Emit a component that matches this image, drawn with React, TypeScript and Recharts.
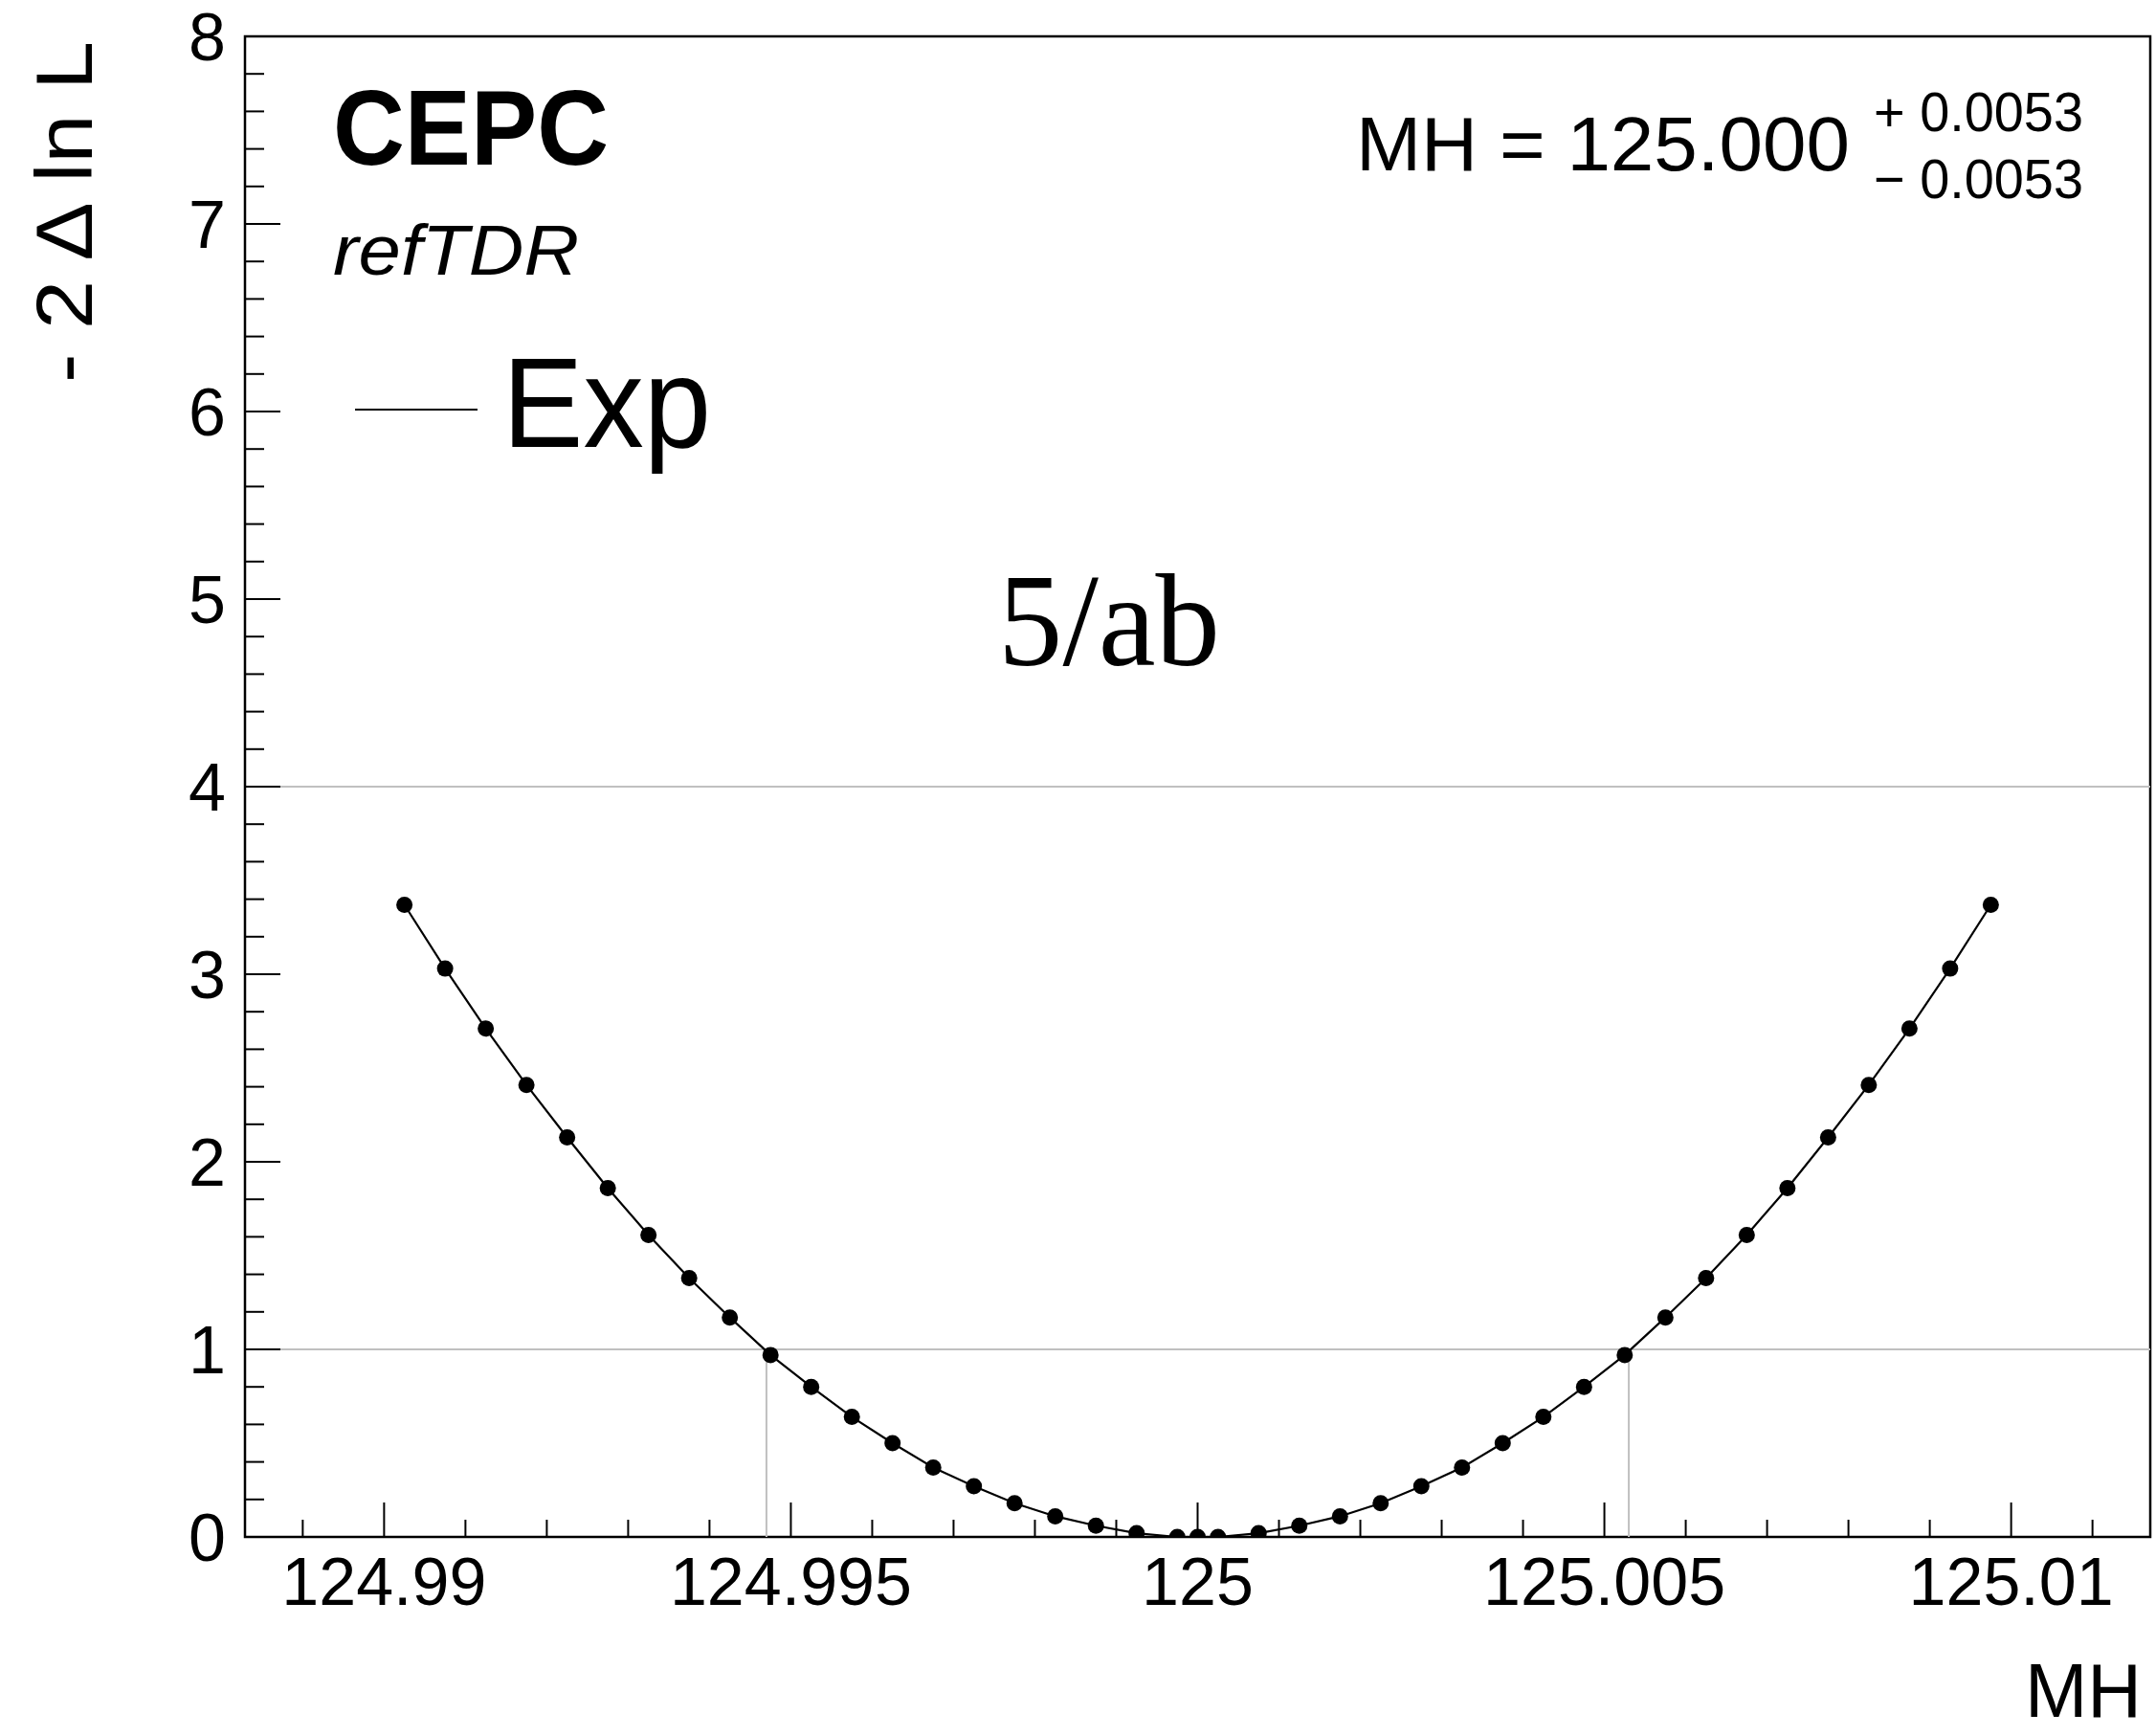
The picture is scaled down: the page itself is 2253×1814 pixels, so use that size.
import React from "react"
import { LineChart, Line, XAxis, YAxis, ReferenceLine, ReferenceArea } from "recharts"

// likelihood scan of MH
const mhValues = [
  124.99025, 124.99075, 124.99125, 124.99175, 124.99225, 124.99275, 124.99325,
  124.99375, 124.99425, 124.99475, 124.99525, 124.99575, 124.99625, 124.99675,
  124.99725, 124.99775, 124.99825, 124.99875, 124.99925, 124.99975, 125.0,
  125.00025, 125.00075, 125.00125, 125.00175, 125.00225, 125.00275, 125.00325,
  125.00375, 125.00425, 125.00475, 125.00525, 125.00575, 125.00625, 125.00675,
  125.00725, 125.00775, 125.00825, 125.00875, 125.00925, 125.00975,
]
const nllValues = [
  3.37, 3.03, 2.71, 2.41, 2.13, 1.86, 1.61, 1.38, 1.17, 0.97, 0.8, 0.64, 0.5, 0.37,
  0.27, 0.18, 0.11, 0.06, 0.02, 0.0, 0.0,
  0.0, 0.02, 0.06, 0.11, 0.18, 0.27, 0.37, 0.5, 0.64, 0.8, 0.97, 1.17, 1.38, 1.61,
  1.86, 2.13, 2.41, 2.71, 3.03, 3.37,
]

const xDomain = [124.98829, 125.01171]
const xMajor = [124.99, 124.995, 125, 125.005, 125.01]
const xMajorLabels = ["124.99", "124.995", "125", "125.005", "125.01"]
const xMinorStep = 0.001

const yDomain = [0, 8]
const yMajor = [0, 1, 2, 3, 4, 5, 6, 7, 8]
const yMinorDiv = 5

const sigmaLines = [124.9947, 125.0053]
const refLevels = [1, 4]

const data = mhValues.map((mh, i) => ({ mh, nll: nllValues[i] }))

const xTicks: number[] = []
for (let v = 124.989; v <= 125.0115; v += xMinorStep) xTicks.push(Math.round(v * 1e6) / 1e6)

const yTicks: number[] = []
for (let i = 0; i < yMajor.length - 1; i++) {
  for (let j = 0; j < yMinorDiv; j++) yTicks.push(yMajor[i] + j / yMinorDiv)
}
yTicks.push(yMajor[yMajor.length - 1])

const FONT = "'Liberation Sans', Arial, Helvetica, sans-serif"

const XTick = (props: any) => {
  const { x, y, payload } = props
  const idx = xMajor.findIndex((m) => Math.abs(m - payload.value) < 1e-7)
  const major = idx >= 0
  return (
    <g>
      <line x1={x} x2={x} y1={y} y2={y - (major ? 36 : 18)} stroke="#000" strokeWidth={2} />
      {major && (
        <text x={x} y={y + 71} textAnchor="middle" fontSize={70} fontFamily={FONT} fill="#000">
          {xMajorLabels[idx]}
        </text>
      )}
    </g>
  )
}

const YTick = (props: any) => {
  const { x, y, payload } = props
  const major = Math.abs(payload.value - Math.round(payload.value)) < 1e-7
  return (
    <g>
      <line x1={x} x2={x + (major ? 37 : 20)} y1={y} y2={y} stroke="#000" strokeWidth={2} />
      {major && (
        <text x={x - 20} y={y + 25} textAnchor="end" fontSize={70} fontFamily={FONT} fill="#000">
          {Math.round(payload.value)}
        </text>
      )}
    </g>
  )
}

export default function App() {
  return (
    <div style={{ position: "absolute", left: 0, top: 0, width: 2253, height: 1814, background: "#fff" }}>
      <LineChart width={2253} height={1814} data={data} margin={{ top: 38, right: 6, bottom: 0, left: 0 }}>
        <XAxis
          dataKey="mh"
          type="number"
          domain={xDomain}
          allowDataOverflow
          ticks={xTicks}
          interval={0}
          tickSize={0}
          tickMargin={0}
          axisLine={false}
          tickLine={false}
          height={208}
          tick={<XTick />}
        />
        <YAxis
          type="number"
          domain={yDomain}
          allowDataOverflow
          ticks={yTicks}
          interval={0}
          tickSize={0}
          tickMargin={0}
          axisLine={false}
          tickLine={false}
          width={256}
          tick={<YTick />}
        />
        {refLevels.map((lv) => (
          <ReferenceLine key={"h" + lv} y={lv} stroke="#c0c0c0" strokeWidth={2} />
        ))}
        {sigmaLines.map((sx) => (
          <ReferenceLine
            key={"v" + sx}
            segment={[{ x: sx, y: 0 }, { x: sx, y: 1 }]}
            stroke="#c0c0c0"
            strokeWidth={2}
          />
        ))}
        <ReferenceArea
          x1={xDomain[0]}
          x2={xDomain[1]}
          y1={yDomain[0]}
          y2={yDomain[1]}
          fill="none"
          fillOpacity={0}
          stroke="#000"
          strokeWidth={2.5}
        />
        <Line
          dataKey="nll"
          type="linear"
          stroke="#000"
          strokeWidth={2.2}
          dot={{ r: 8.5, fill: "#000", stroke: "#000", strokeWidth: 0 }}
          activeDot={false}
          isAnimationActive={false}
        />
      </LineChart>
      <svg
        width={2253}
        height={1814}
        style={{ position: "absolute", left: 0, top: 0, pointerEvents: "none" }}
        fontFamily={FONT}
      >
        <text x={348} y={172} fontSize={112} fontWeight="bold" textLength={288} lengthAdjust="spacingAndGlyphs">
          CEPC
        </text>
        <text x={348} y={287} fontSize={75} fontStyle="italic" textLength={257} lengthAdjust="spacingAndGlyphs">
          refTDR
        </text>
        <line x1={371} x2={499} y1={428} y2={428} stroke="#000" strokeWidth={2} />
        <text x={525} y={467} fontSize={134} textLength={218} lengthAdjust="spacingAndGlyphs">
          Exp
        </text>
        <text x={1417} y={178} fontSize={80} textLength={516} lengthAdjust="spacingAndGlyphs">
          MH = 125.000
        </text>
        <text x={1958} y={137} fontSize={58} textLength={219} lengthAdjust="spacingAndGlyphs">
          + 0.0053
        </text>
        <text x={1958} y={207} fontSize={58} textLength={219} lengthAdjust="spacingAndGlyphs">
          − 0.0053
        </text>
        <text
          x={1043}
          y={695}
          fontSize={138}
          fontFamily="'Liberation Serif', 'Times New Roman', serif"
          textLength={232}
          lengthAdjust="spacingAndGlyphs"
        >
          5/ab
        </text>
        <text
          x={96}
          y={400}
          fontSize={84}
          transform="rotate(-90, 96, 400)"
          textLength={357}
          lengthAdjust="spacingAndGlyphs"
        >
          - 2 Δ ln L
        </text>
        <text x={2116} y={1794} fontSize={80} textLength={122} lengthAdjust="spacingAndGlyphs">
          MH
        </text>
      </svg>
    </div>
  )
}
